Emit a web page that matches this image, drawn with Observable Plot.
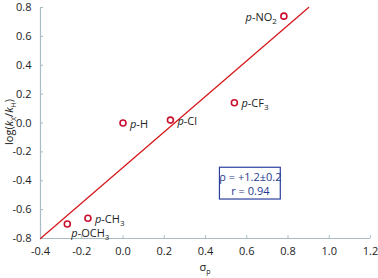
<!DOCTYPE html>
<html><head><meta charset="utf-8">
<script src="https://cdn.jsdelivr.net/npm/d3@7"></script>
<script src="https://cdn.jsdelivr.net/npm/@observablehq/plot@0.6"></script>
<style>body{margin:0;background:#fff;} svg{font-family:"Open Sans",sans-serif;}</style>
</head><body><div id="chart"></div>
<script>
const substituents = ["NO2", "CF3", "Cl", "H", "CH3", "OCH3"];
const sigmaP = [0.78, 0.54, 0.23, 0.0, -0.17, -0.27];
const logRatio = [0.74, 0.14, 0.02, 0.0, -0.66, -0.70];
const labelSide = ["left", "right", "right", "right", "right", "below"];
const fitX = [-0.4, 0.9];
const fitY = [-0.8, 0.8];
const xTicks = [-0.4, -0.2, 0.0, 0.2, 0.4, 0.6, 0.8, 1.0, 1.2];
const yTicks = [-0.8, -0.6, -0.4, -0.2, 0.0, 0.2, 0.4, 0.6, 0.8];
const statLines = ["ρ = +1.2±0.2", "r = 0.94"];

const pts = substituents.map((s, i) => ({s, x: sigmaP[i], y: logRatio[i], side: labelSide[i]}));
const fit = fitX.map((x, i) => ({x, y: fitY[i]}));
const axisCol = "#a9bcc6";
const fmt = d => d.toFixed(1);

const plot = Plot.plot({
  width: 378, height: 278,
  marginLeft: 40, marginRight: 8, marginTop: 7, marginBottom: 40,
  x: {type: "linear", domain: [-0.4, 1.2]},
  y: {type: "linear", domain: [-0.8, 0.8]},
  style: {fontSize: "11px", fontFamily: "'Open Sans', sans-serif", color: "#222", overflow: "visible"},
  marks: [
    Plot.ruleY([-0.8], {stroke: axisCol, strokeWidth: 1.2}),
    Plot.ruleX([-0.4], {stroke: axisCol, strokeWidth: 1.2}),
    Plot.ruleX(xTicks, {x: d => d, y1: -0.8, y2: -0.78, stroke: axisCol}),
    Plot.ruleY(yTicks, {y: d => d, x1: -0.4, x2: -0.385, stroke: axisCol}),
    Plot.axisX({ticks: xTicks, tickSize: 0, tickPadding: 9, tickFormat: fmt, label: null, fill: "#222"}),
    Plot.axisY({ticks: yTicks, tickSize: 0, tickPadding: 9, tickFormat: fmt, label: null, fill: "#222"}),
    Plot.line(fit, {x: "x", y: "y", stroke: "#d7191c", strokeWidth: 1.3}),
    Plot.dot(pts, {x: "x", y: "y", r: 3, stroke: "#c8102e", strokeWidth: 1.6, fill: "white"}),
    Plot.text(pts.filter(d => d.side === "right"), {x: "x", y: "y", text: "s", textAnchor: "start", dx: 7, dy: 1, fill: "#222", className: "sublabel"}),
    Plot.text(pts.filter(d => d.side === "left"), {x: "x", y: "y", text: "s", textAnchor: "end", dx: -7, dy: 1, fill: "#222", className: "sublabel"}),
    Plot.text(pts.filter(d => d.side === "below"), {x: "x", y: "y", text: "s", textAnchor: "start", dx: 4, dy: 9, fill: "#222", className: "sublabel"}),
    Plot.rect([{x1: 0.47, x2: 0.765, y1: -0.53, y2: -0.31}], {x1: "x1", x2: "x2", y1: "y1", y2: "y2", fill: "white", stroke: "#2b3f9e", strokeWidth: 1.2}),
    Plot.text([statLines.join("\n")], {x: 0.6175, y: -0.42, text: d => d, fill: "#1f3b8f", fontSize: 11, lineHeight: 1.25})
  ]
});

// rich formatting of substituent labels: italic p, subscript digits
d3.select(plot).selectAll("g.sublabel text").each(function() {
  const t = d3.select(this);
  const s = t.text();
  t.text("");
  t.append("tspan").attr("font-style", "italic").text("p");
  t.append("tspan").text("-");
  const parts = s.match(/[A-Za-z]+|\d+/g);
  let sub = false;
  parts.forEach(p => {
    if (/\d/.test(p)) {
      t.append("tspan").attr("font-size", 8).attr("dy", 3).text(p);
      sub = true;
    } else {
      const ts = t.append("tspan").text(p);
      if (sub) { ts.attr("dy", -3); sub = false; }
    }
  });
});

const svg = d3.select(plot);
// y axis title
const yl = svg.append("text").attr("transform", "translate(13,122) rotate(-90)").attr("text-anchor", "middle")
  .attr("font-size", 11).attr("fill", "#222");
yl.append("tspan").text("log(");
yl.append("tspan").attr("font-style", "italic").text("k");
yl.append("tspan").attr("font-size", 7).attr("dy", 3).text("X");
yl.append("tspan").attr("dy", -3).text("/");
yl.append("tspan").attr("font-style", "italic").text("k");
yl.append("tspan").attr("font-size", 7).attr("dy", 3).text("H");
yl.append("tspan").attr("dy", -3).text(")");
// x axis title
const xl = svg.append("text").attr("x", 205).attr("y", 271).attr("text-anchor", "middle").attr("font-size", 11).attr("fill", "#222");
xl.append("tspan").text("σ");
xl.append("tspan").attr("font-size", 7).attr("dy", 3).text("p");

document.getElementById("chart").appendChild(plot);
</script>
</body></html>
